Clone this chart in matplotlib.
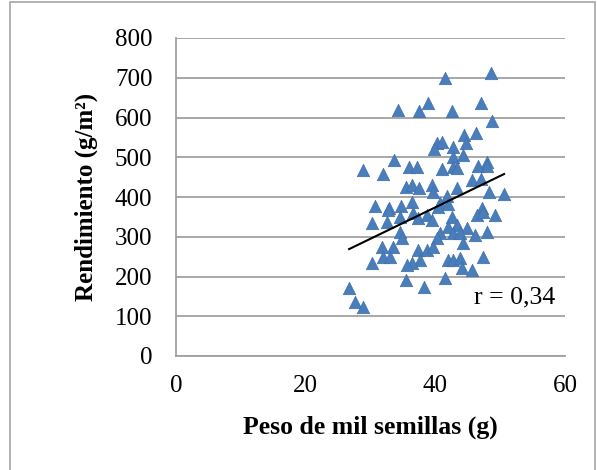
import numpy as np
import matplotlib
matplotlib.use('Agg')
import matplotlib.pyplot as plt
from matplotlib.patches import Rectangle

# Peso de mil semillas (g) vs Rendimiento (g/m2)
peso = [48.6, 41.5, 34.3, 37.5, 38.9, 42.6, 47.1, 48.8, 44.4, 46.3,
        40.3, 41.0, 39.8, 42.7, 44.7, 42.7, 44.3, 33.6, 28.9, 31.9,
        36.0, 37.2, 41.0, 42.7, 43.4, 46.6, 48.0, 48.0, 45.7, 47.1,
        35.5, 36.4, 37.5, 39.5, 39.7, 43.4, 48.3, 50.6, 41.8, 30.7,
        32.9, 34.7, 36.4, 40.7, 42.0, 47.2, 32.7, 40.4, 30.2, 32.6,
        34.6, 36.6, 37.3, 38.7, 39.5, 42.6, 43.4, 44.9, 46.5, 47.4,
        49.2, 42.0, 34.6, 34.9, 40.7, 40.3, 42.7, 43.8, 46.1, 48.0,
        44.3, 31.8, 33.5, 31.9, 33.0, 37.3, 38.7, 39.7, 37.7, 36.4,
        35.6, 30.2, 42.0, 42.7, 43.8, 44.1, 45.7, 47.4, 35.5, 38.3,
        41.5, 26.7, 27.6, 28.9]
rend = [712, 700, 619, 616, 636, 616, 636, 591, 556, 561,
        536, 538, 520, 526, 536, 500, 505, 493, 468, 458,
        475, 475, 470, 475, 473, 478, 488, 478, 443, 445,
        425, 430, 423, 430, 413, 423, 413, 408, 403, 377,
        372, 377, 387, 385, 382, 372, 367, 375, 335, 337,
        350, 360, 347, 355, 342, 350, 330, 322, 355, 362,
        355, 325, 312, 297, 309, 297, 309, 309, 304, 312,
        284, 274, 274, 249, 249, 267, 267, 274, 242, 234,
        229, 234, 242, 242, 247, 221, 216, 249, 191, 173,
        196, 171, 136, 123]

# linea de tendencia tal como se ve en el grafico
pendiente = 7.9
intercepto = 58

x_ticks = [0, 20, 40, 60]
y_ticks = [0, 100, 200, 300, 400, 500, 600, 700, 800]

plt.rcParams['font.family'] = ['Liberation Serif', 'DejaVu Serif']

fig = plt.figure(figsize=(5.97, 4.70), dpi=100)
ax = fig.add_axes([176/597, 1-356/470, (565-176)/597, (356-38)/470])

# borde del grafico
fig.patches.append(Rectangle((10/597, -0.05), 585/597, 1.05 - 2/470, transform=fig.transFigure,
                             fill=False, edgecolor='#a6a6a6', linewidth=1.2))

ax.scatter(peso, rend, marker='^', s=80, color='#4a7ebb', edgecolors='#3f6fae',
           linewidths=0.5, zorder=3)

xl = np.array([min(peso), max(peso)])
ax.plot(xl, pendiente*xl + intercepto, color='black', linewidth=1.5, zorder=4)

ax.set_xlim(0, 60)
ax.set_ylim(0, 800)
ax.set_xticks(x_ticks)
ax.set_yticks(y_ticks)
ax.yaxis.grid(True, color='#a0a0a0', linewidth=1.3)
ax.set_axisbelow(True)
for s in ['top', 'right']:
    ax.spines[s].set_visible(False)
for s in ['left', 'bottom']:
    ax.spines[s].set_color('#a0a0a0')
    ax.spines[s].set_linewidth(1.3)
ax.tick_params(length=0, labelsize=18)
ax.tick_params(axis='x', pad=14)
ax.tick_params(axis='y', pad=17)

ax.set_xlabel('Peso de mil semillas (g)', fontsize=18.5, fontweight='bold', labelpad=13)
ax.set_ylabel('Rendimiento (g/m²)', fontsize=18, fontweight='bold', labelpad=12)
ax.text(52.3, 148, 'r = 0,34', fontsize=18.5, ha='center', va='center')

fig.savefig('out.png', dpi=100)
